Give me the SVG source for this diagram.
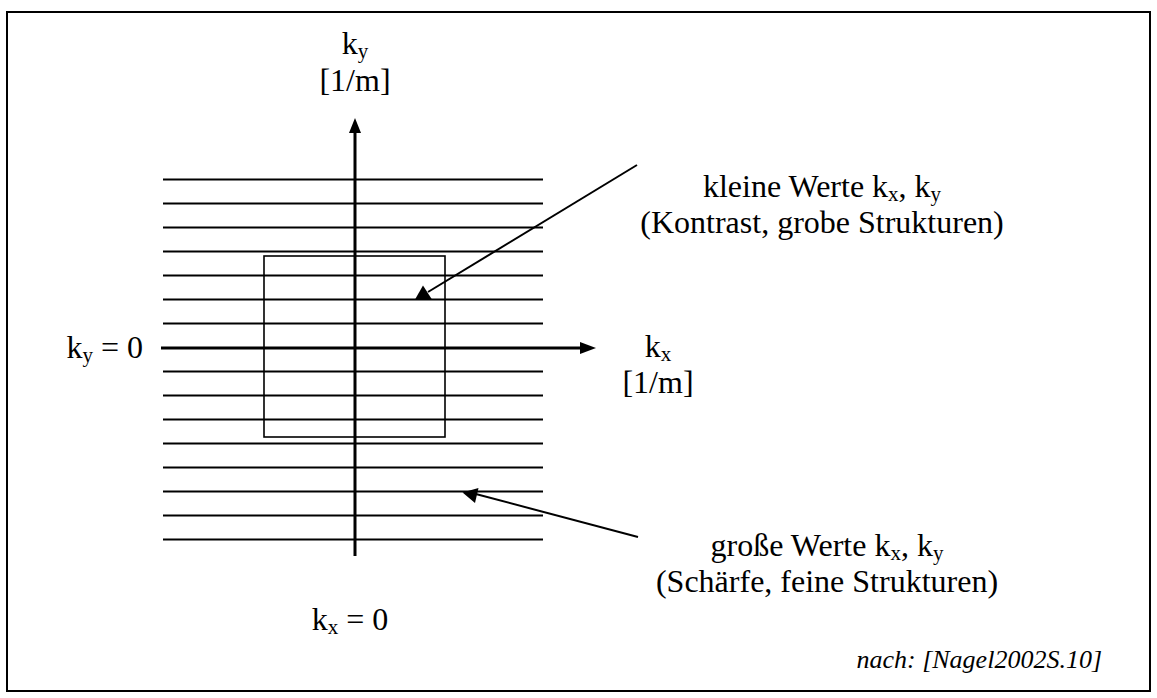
<svg xmlns="http://www.w3.org/2000/svg" width="1157" height="698" viewBox="0 0 1157 698">
<style>
text{font-family:"Liberation Serif","Times New Roman",serif;font-size:32px;fill:#000}
.sub{font-size:21px}
.grid line{stroke:#000;stroke-width:2}
.axis{stroke:#000;stroke-width:3}
.conn{stroke:#000;stroke-width:2;fill:none}
.note{font-style:italic;font-size:26px}
</style>
<rect x="0" y="0" width="1157" height="698" fill="#fff"/>
<rect x="7" y="12" width="1143" height="679" fill="none" stroke="#000" stroke-width="2"/>
<g id="grid" class="grid">
<line x1="163" y1="179.5" x2="543" y2="179.5"/>
<line x1="163" y1="203.5" x2="543" y2="203.5"/>
<line x1="163" y1="227.5" x2="543" y2="227.5"/>
<line x1="163" y1="251.5" x2="543" y2="251.5"/>
<line x1="163" y1="275.5" x2="543" y2="275.5"/>
<line x1="163" y1="299.5" x2="543" y2="299.5"/>
<line x1="163" y1="323.5" x2="543" y2="323.5"/>
<line x1="163" y1="371.5" x2="543" y2="371.5"/>
<line x1="163" y1="395.5" x2="543" y2="395.5"/>
<line x1="163" y1="419.5" x2="543" y2="419.5"/>
<line x1="163" y1="443.5" x2="543" y2="443.5"/>
<line x1="163" y1="467.5" x2="543" y2="467.5"/>
<line x1="163" y1="491.5" x2="543" y2="491.5"/>
<line x1="163" y1="515.5" x2="543" y2="515.5"/>
<line x1="163" y1="539.5" x2="543" y2="539.5"/>
</g>
<g id="box"><rect x="264" y="256" width="181" height="181" fill="none" stroke="#000" stroke-width="1.6"/></g>
<g id="axes">
<line class="axis" x1="161" y1="348" x2="582" y2="348"/>
<polygon points="596,348 580,342 580,354" fill="#000"/>
<line class="axis" x1="355" y1="556" x2="355" y2="132"/>
<polygon points="355,118 349,133 361,133" fill="#000"/>
</g>
<g id="connectors">
<line class="conn" x1="637" y1="165" x2="428" y2="292"/>
<polygon points="415,299.5 432,299.5 423,285.5" fill="#000"/>
<line class="conn" x1="638" y1="537" x2="472" y2="493"/>
<polygon points="462.5,492.5 478.5,488 475,503" fill="#000"/>
</g>
<g id="label-ky">
<text x="355" y="54" text-anchor="middle">k<tspan class="sub" dy="4">y</tspan></text>
<text x="355" y="91" text-anchor="middle">[1/m]</text>
</g>
<g id="label-kx">
<text x="658" y="357" text-anchor="middle">k<tspan class="sub" dy="4">x</tspan></text>
<text x="658" y="393" text-anchor="middle">[1/m]</text>
</g>
<g id="label-ky0">
<text x="143" y="358" text-anchor="end">k<tspan class="sub" dy="4">y</tspan><tspan dy="-4"> = 0</tspan></text>
</g>
<g id="label-kx0">
<text x="350" y="630" text-anchor="middle">k<tspan class="sub" dy="4">x</tspan><tspan dy="-4"> = 0</tspan></text>
</g>
<g id="label-small">
<text x="822" y="197" text-anchor="middle">kleine Werte k<tspan class="sub" dy="4">x</tspan><tspan dy="-4">, k</tspan><tspan class="sub" dy="4">y</tspan></text>
<text x="822" y="233" text-anchor="middle">(Kontrast, grobe Strukturen)</text>
</g>
<g id="label-large">
<text x="827" y="556" text-anchor="middle">große Werte k<tspan class="sub" dy="4">x</tspan><tspan dy="-4">, k</tspan><tspan class="sub" dy="4">y</tspan></text>
<text x="827" y="592" text-anchor="middle">(Schärfe, feine Strukturen)</text>
</g>
<g id="note">
<text class="note" x="1102" y="668" text-anchor="end">nach: [Nagel2002S.10]</text>
</g>
</svg>
